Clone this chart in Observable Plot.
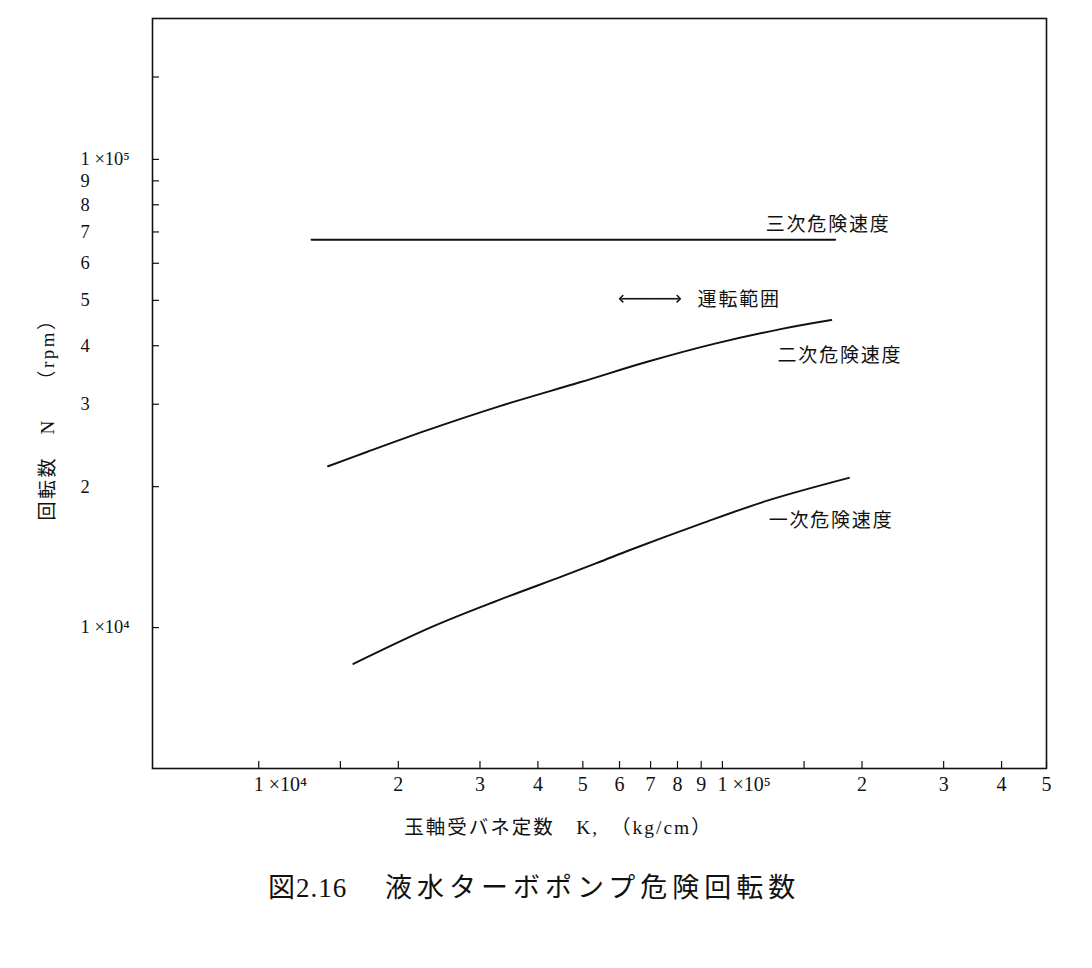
<!DOCTYPE html>
<html><head><meta charset="utf-8">
<script src="https://cdn.jsdelivr.net/npm/d3@7"></script>
<script src="https://cdn.jsdelivr.net/npm/@observablehq/plot@0.6"></script>
<style>
body{margin:0;background:#fff;}
#wrap{position:relative;width:1092px;height:968px;background:#fff;}
#caption{position:absolute;left:268px;top:866px;font-family:'Liberation Serif','Noto Sans CJK JP',serif;font-size:27px;color:#111;white-space:nowrap;}
#caption .num{letter-spacing:1px;}
#caption .txt{position:absolute;left:117px;top:0;letter-spacing:5px;}
</style></head><body><div id="wrap"></div>
<script>
// Axis ticks
const xTickValues = [1e4, 1.5e4, 2e4, 3e4, 4e4, 5e4, 6e4, 7e4, 8e4, 9e4, 1e5, 1.5e5, 2e5, 3e5, 4e5, 5e5];
const xTickLabels = ["1 ×10⁴", "", "2", "3", "4", "5", "6", "7", "8", "9", "1 ×10⁵", "", "2", "3", "4", "5"];
const yTickValues = [1e4, 2e4, 3e4, 4e4, 5e4, 6e4, 7e4, 8e4, 9e4, 1e5, 1.5e5];
const yTickLabels = ["1 ×10⁴", "2", "3", "4", "5", "6", "7", "8", "9", "1 ×10⁵", ""];

// 一次危険速度
const k1 = [16000, 23490, 32710, 45530, 54640, 63400, 89740, 125000, 187400];
const n1 = [8366, 10010, 11420, 12910, 13840, 14660, 16650, 18670, 20880];
// 二次危険速度
const k2 = [14110, 17160, 23110, 33250, 49470, 68880, 95870, 133500, 171700];
const n2 = [22110, 23750, 26410, 29760, 33450, 36960, 40360, 43400, 45380];
// 三次危険速度
const k3 = [13000, 175000];
const n3 = [67400, 67400];

// Annotations
const annLabels = ["三次危険速度", "運転範囲", "二次危険速度", "一次危険速度"];
const annX = [1.24e5, 8.84e4, 1.315e5, 1.258e5];
const annY = [7.26e4, 5.02e4, 3.81e4, 1.692e4];
const rangeX = [6.05e4, 8.05e4];
const rangeY = 5.04e4;

const xTitle = "玉軸受バネ定数　K,　（kg/cm）";
const yTitle = "回転数　N　 （rpm）";
const captionNum = "図2.16";
const captionText = "液水ターボポンプ危険回転数";

const series = [
  ...k1.map((k, i) => ({name: "一次", k, n: n1[i]})),
  ...k2.map((k, i) => ({name: "二次", k, n: n2[i]})),
  ...k3.map((k, i) => ({name: "三次", k, n: n3[i]}))
];
const xTicks = xTickValues.map((v, i) => ({v, label: xTickLabels[i]}));
const yTicks = yTickValues.map((v, i) => ({v, label: yTickLabels[i]}));
const anns = annLabels.map((t, i) => ({t, x: annX[i], y: annY[i]}));
const rangeMid = Math.sqrt(rangeX[0] * rangeX[1]);
const arrows = [{x1: rangeMid, x2: rangeX[0], y: rangeY}, {x1: rangeMid, x2: rangeX[1], y: rangeY}];

const serif = "'Liberation Serif','Noto Sans CJK JP',serif";

const chart = Plot.plot({
  width: 1092,
  height: 860,
  marginLeft: 152,
  marginRight: 46,
  marginTop: 18,
  marginBottom: 92,
  x: {type: "log", domain: [5900, 500000], axis: null},
  y: {type: "log", domain: [5000, 200000], axis: null},
  style: {fontFamily: serif, background: "white", color: "black", overflow: "visible"},
  marks: [
    Plot.frame({stroke: "#111", strokeWidth: 1.6}),
    Plot.tickX(xTicks, {x: "v", insetTop: 743, stroke: "#111", strokeWidth: 1.2}),
    Plot.tickY(yTicks, {y: "v", insetRight: 887, stroke: "#111", strokeWidth: 1.2}),
    Plot.text(xTicks.filter(d => d.label.length === 1), {x: "v", text: "label", frameAnchor: "bottom", dy: 16, lineAnchor: "middle", fontSize: 20, fill: "#111"}),
    Plot.text(xTicks.filter(d => d.label.length > 1), {x: "v", text: "label", frameAnchor: "bottom", dy: 16, dx: -5, textAnchor: "start", lineAnchor: "middle", fontSize: 20, fill: "#111"}),
    Plot.text(yTicks, {y: "v", text: "label", frameAnchor: "left", dx: -72, textAnchor: "start", lineAnchor: "middle", fontSize: 18.5, fill: "#111"}),
    Plot.line(series, {x: "k", y: "n", z: "name", stroke: "#111", strokeWidth: 2, curve: "catmull-rom"}),
    Plot.text(anns, {x: "x", y: "y", text: "t", textAnchor: "start", lineAnchor: "middle", fontSize: 19, fill: "#111"}),
    Plot.link(arrows, {x1: "x1", x2: "x2", y1: "y", y2: "y", stroke: "#111", strokeWidth: 1.6, markerEnd: "arrow"}),
    Plot.text([xTitle], {frameAnchor: "bottom", dy: 59, dx: -41, textAnchor: "middle", lineAnchor: "middle", fontSize: 19.5, fill: "#111"}),
    Plot.text([yTitle], {frameAnchor: "left", dx: -105, dy: 21, textAnchor: "middle", rotate: -90, lineAnchor: "middle", fontSize: 19, fill: "#111"})
  ]
});
// letter spacing for the Japanese labels
const spacing = new Map([[xTitle, 2], [yTitle, 2.5], ...annLabels.map(t => [t, 1.8])]);
d3.select(chart).selectAll("text").each(function() {
  const s = spacing.get(this.textContent);
  if (s != null) this.style.letterSpacing = s + "px";
});
const wrap = document.getElementById("wrap");
wrap.appendChild(chart);
const cap = document.createElement("div");
cap.id = "caption";
const capNum = document.createElement("span");
capNum.className = "num";
capNum.textContent = captionNum;
const capTxt = document.createElement("span");
capTxt.className = "txt";
capTxt.textContent = captionText;
cap.appendChild(capNum);
cap.appendChild(capTxt);
wrap.appendChild(cap);
</script>
</body></html>
